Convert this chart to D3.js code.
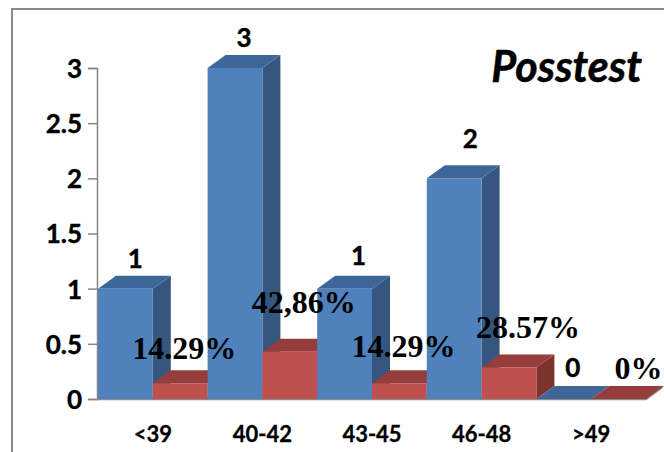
<!DOCTYPE html>
<html>
<head>
<meta charset="utf-8">
<script src="https://cdn.jsdelivr.net/npm/d3@7"></script>
<style>
  html, body { margin: 0; padding: 0; background: #fff; }
  svg { display: block; }
</style>
</head>
<body>
<svg id="chart" width="664" height="452"></svg>
<script>
// Score groups and the two series drawn side by side in each group
const categories = ["<39", "40-42", "43-45", "46-48", ">49"];
const counts = [1, 3, 1, 2, 0];
const shares = [0.1429, 0.4286, 0.1429, 0.2857, 0];
const shareLabels = ["14.29%", "42,86%", "14.29%", "28.57%", "0%"];
const yTicks = [0, 0.5, 1, 1.5, 2, 2.5, 3];
const title = "Posstest";

// Hand-placed label nudges (dx, dy) relative to each bar's top
const countNudge = [[1, 1], [0, 1], [5, -2], [7, -8], [0, 0]];
const shareNudge = [[-5, 1], [5, -14], [-5, -1], [10, -4], [11, 5]];

const W = 664, H = 452;
const depthX = 18, depthY = 13;

const svg = d3.select("#chart");

// Chart frame
svg.append("rect")
  .attr("x", 12).attr("y", 9)
  .attr("width", W + 20).attr("height", H + 20)
  .attr("fill", "#fff")
  .attr("stroke", "#8a8a8a").attr("stroke-width", 2);

const x = d3.scaleBand().domain(categories).range([98, 646]).padding(0);
const inner = d3.scaleBand().domain(["count", "share"]).range([0, x.bandwidth()]).padding(0);
const y = d3.scaleLinear().domain([0, 3]).range([399, 68]);

const palette = {
  count: { front: "#4f81bd", top: "#3e6698", side: "#35577f" },
  share: { front: "#c0504d", top: "#943d3b", side: "#7d3230" }
};

const sansFont = "Lato, 'Open Sans', sans-serif";

// Y axis
const yAxis = svg.append("g").attr("transform", "translate(97,0)")
  .call(d3.axisLeft(y).tickValues(yTicks).tickSize(9).tickPadding(6)
    .tickFormat(d3.format("~g")));
yAxis.select(".domain").attr("stroke", "#868686").attr("stroke-width", 1.5);
yAxis.selectAll(".tick line").attr("stroke", "#868686").attr("stroke-width", 1.5);
yAxis.selectAll(".tick text")
  .attr("fill", "#000")
  .attr("font-family", sansFont)
  .attr("font-weight", "bold")
  .attr("font-size", 26)
  .attr("stroke", "#000").attr("stroke-width", 0.4)
  .attr("dy", "0.36em");

// Floor edge
svg.append("path")
  .attr("d", d3.line()([[97, y(0)], [x.range()[1], y(0)], [x.range()[1] + depthX - 2, y(0) - depthY + 1]]))
  .attr("fill", "none").attr("stroke", "#8c8c8c").attr("stroke-width", 2.5);

// 3D column: side, top and front faces
function column(g, x0, w, v, col) {
  const y0 = y(0), y1 = y(v), x1 = x0 + w;
  g.append("path")
    .attr("d", d3.line()([[x1, y1], [x1 + depthX, y1 - depthY], [x1 + depthX, y0 - depthY], [x1, y0]]) + "Z")
    .attr("fill", col.side);
  g.append("path")
    .attr("d", d3.line()([[x0, y1], [x1, y1], [x1 + depthX, y1 - depthY], [x0 + depthX, y1 - depthY]]) + "Z")
    .attr("fill", col.top);
  if (y0 - y1 > 0) {
    g.append("rect")
      .attr("x", x0).attr("y", y1)
      .attr("width", w).attr("height", y0 - y1)
      .attr("fill", col.front);
  }
}

const bars = svg.append("g");
categories.forEach((c, i) => {
  column(bars, x(c) + inner("count"), inner.bandwidth(), counts[i], palette.count);
  column(bars, x(c) + inner("share"), inner.bandwidth(), shares[i], palette.share);
});

// Category labels
svg.append("g").selectAll("text").data(categories).join("text")
  .attr("x", d => x(d) + x.bandwidth() / 2)
  .attr("y", 442)
  .attr("text-anchor", "middle")
  .attr("font-family", sansFont)
  .attr("font-weight", "bold")
  .attr("font-size", 22)
  .attr("stroke", "#000").attr("stroke-width", 0.3)
  .attr("fill", "#000")
  .text(d => d);

// Count labels
svg.append("g").selectAll("text").data(counts).join("text")
  .attr("x", (d, i) => x(categories[i]) + inner("count") + inner.bandwidth() / 2 + depthX / 2 + countNudge[i][0])
  .attr("y", (d, i) => y(d) - depthY - 9 + countNudge[i][1])
  .attr("text-anchor", "middle")
  .attr("font-family", sansFont)
  .attr("font-weight", "bold")
  .attr("font-size", 26)
  .attr("stroke", "#000").attr("stroke-width", 0.4)
  .attr("fill", "#000")
  .text(d => d);

// Share labels
svg.append("g").selectAll("text").data(shares).join("text")
  .attr("x", (d, i) => x(categories[i]) + inner("share") + inner.bandwidth() / 2 + depthX / 2 + shareNudge[i][0])
  .attr("y", (d, i) => y(d) - depthY - 12 + shareNudge[i][1])
  .attr("text-anchor", "middle")
  .attr("font-family", "'Liberation Serif', 'Times New Roman', serif")
  .attr("font-weight", "bold")
  .attr("font-size", 32)
  .attr("fill", "#000")
  .text((d, i) => shareLabels[i]);

// Title
svg.append("text")
  .attr("x", 642).attr("y", 82)
  .attr("text-anchor", "end")
  .attr("font-family", sansFont)
  .attr("font-weight", "bold")
  .attr("font-style", "italic")
  .attr("font-size", 43)
  .attr("stroke", "#000").attr("stroke-width", 0.5)
  .attr("fill", "#000")
  .text(title);
</script>
</body>
</html>
